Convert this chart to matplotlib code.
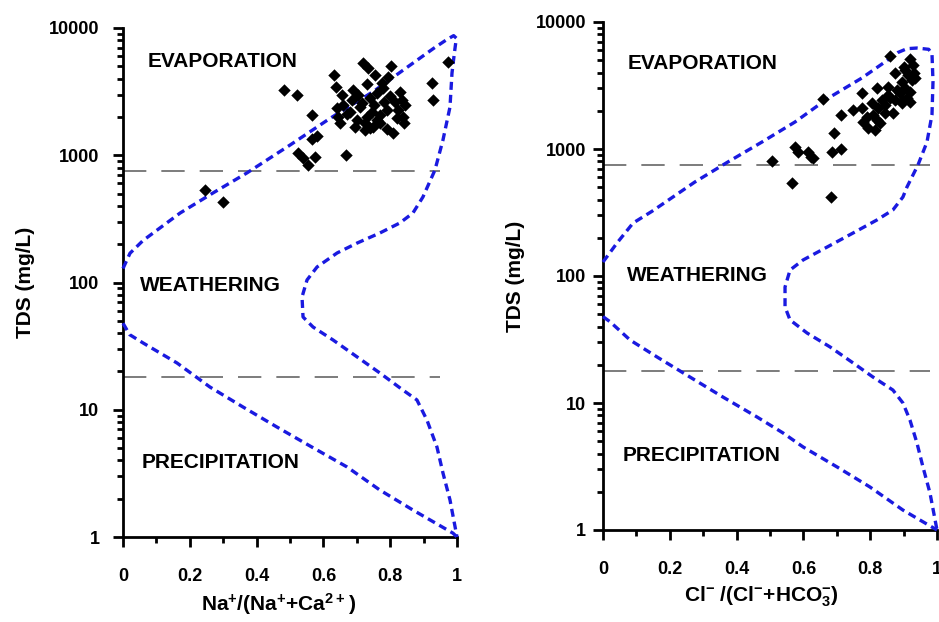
import numpy as np
import matplotlib
matplotlib.use("Agg")
import matplotlib.pyplot as plt
from matplotlib.ticker import FixedLocator, NullFormatter, FixedFormatter

plt.rcParams['font.family'] = ['Liberation Sans', 'DejaVu Sans']
plt.rcParams['font.weight'] = 'bold'
plt.rcParams['mathtext.fontset'] = 'custom'
plt.rcParams['mathtext.bf'] = 'Liberation Sans:bold'
plt.rcParams['mathtext.rm'] = 'Liberation Sans:bold'
plt.rcParams['mathtext.default'] = 'bf'

# ---------------- data ----------------
# Left panel: Na+/(Na+ + Ca2+) vs TDS
na_x = [0.246, 0.299, 0.482, 0.521, 0.566, 0.644, 0.566, 0.581, 0.524, 0.539,
        0.554, 0.575, 0.668, 0.632, 0.638, 0.656, 0.641, 0.719, 0.734, 0.754,
        0.802, 0.793, 0.775, 0.689, 0.704, 0.686, 0.716, 0.740, 0.760, 0.778,
        0.829, 0.835, 0.844, 0.823, 0.838, 0.820, 0.790, 0.769, 0.760, 0.746,
        0.731, 0.725, 0.740, 0.725, 0.749, 0.769, 0.695, 0.808, 0.925, 0.928,
        0.973, 0.660, 0.680, 0.700, 0.710, 0.730, 0.750, 0.780, 0.800, 0.815,
        0.650, 0.670, 0.840, 0.790]
na_tds = [533, 429, 3260, 2975, 2070, 2000, 1340, 1420, 1040, 950,
          840, 970, 1005, 4280, 3440, 2970, 2350, 5310, 4850, 4280,
          5020, 4120, 3700, 3260, 2970, 2720, 2580, 2820, 3080, 3370,
          3140, 2720, 2480, 2270, 2000, 1960, 2270, 2070, 1890, 2190,
          2000, 1790, 1640, 1580, 1670, 1790, 1670, 1500, 3700, 2720,
          5410, 2500, 2200, 1900, 2400, 3600, 2500, 2600, 2900, 2600,
          1800, 2100, 1800, 1600]

# Right panel: Cl-/(Cl- + HCO3-) vs TDS
cl_x = [0.506, 0.566, 0.683, 0.575, 0.584, 0.614, 0.623, 0.629, 0.686, 0.713,
        0.692, 0.713, 0.659, 0.859, 0.919, 0.775, 0.820, 0.749, 0.775, 0.778,
        0.793, 0.814, 0.829, 0.808, 0.805, 0.823, 0.844, 0.853, 0.835, 0.868,
        0.874, 0.853, 0.874, 0.895, 0.889, 0.904, 0.910, 0.919, 0.925, 0.934,
        0.928, 0.904, 0.913, 0.898, 0.919, 0.895, 0.844, 0.880, 0.860, 0.900,
        0.930, 0.820, 0.790]
cl_tds = [805, 540, 419, 1040, 946, 946, 865, 850, 946, 1000,
          1340, 1850, 2480, 5400, 5120, 2760, 3020, 2030, 2100, 1630,
          1460, 1410, 1600, 1850, 2300, 2100, 2220, 2660, 2430, 1920,
          2430, 3080, 3960, 3370, 2760, 3020, 2520, 2810, 3490, 3620,
          4580, 4190, 3830, 2430, 2340, 2300, 1920, 2900, 2500, 4400,
          4000, 1700, 1800]

# Gibbs boundary curves (x, log10 TDS)
L_outer_x = [0.0, 0.021, 0.06, 0.171, 0.269, 0.371, 0.5, 0.62, 0.749, 0.85, 0.93,
             0.97, 0.99, 0.998, 0.992, 0.985, 0.979, 0.958, 0.934, 0.898, 0.868,
             0.829, 0.769, 0.701, 0.641, 0.581, 0.551, 0.536, 0.539, 0.569, 0.629,
             0.701, 0.769, 0.838, 0.88, 0.91, 0.94, 0.958, 0.979, 1.0]
L_outer_y = [2.11, 2.23, 2.33, 2.546, 2.703, 2.861, 3.08, 3.29, 3.50, 3.69, 3.84,
             3.91, 3.94, 3.92, 3.80, 3.646, 3.379, 3.12, 2.884, 2.672, 2.546,
             2.468, 2.389, 2.31, 2.232, 2.122, 2.02, 1.886, 1.729, 1.65, 1.548,
             1.415, 1.289, 1.155, 1.077, 0.919, 0.707, 0.503, 0.291, 0.0]
L_lower_x = [0.0, 0.02, 0.06, 0.162, 0.26, 0.359, 0.461, 0.56, 0.671, 0.769, 0.868, 0.988, 1.0]
L_lower_y = [1.68, 1.59, 1.525, 1.367, 1.179, 1.022, 0.864, 0.715, 0.55, 0.369, 0.212, 0.03, 0.0]

R_outer_x = [0.0, 0.042, 0.09, 0.147, 0.275, 0.374, 0.476, 0.575, 0.674, 0.775, 0.844,
             0.883, 0.91, 0.94, 0.975, 0.985, 0.988, 0.985, 0.97, 0.943, 0.910, 0.898,
             0.868, 0.82, 0.749, 0.671, 0.599, 0.56, 0.545, 0.545, 0.56, 0.611, 0.68,
             0.749, 0.808, 0.868, 0.898, 0.919, 0.94, 0.958, 0.979, 1.0]
R_outer_y = [2.11, 2.26, 2.417, 2.51, 2.74, 2.898, 3.055, 3.213, 3.40, 3.559, 3.685,
             3.76, 3.79, 3.795, 3.785, 3.75, 3.53, 3.27, 3.055, 2.874, 2.70, 2.622,
             2.52, 2.441, 2.339, 2.228, 2.126, 2.047, 1.913, 1.756, 1.654, 1.551, 1.441,
             1.315, 1.205, 1.102, 1.0, 0.866, 0.685, 0.496, 0.291, 0.0]
R_lower_x = [0.0, 0.021, 0.081, 0.162, 0.26, 0.359, 0.461, 0.539, 0.599, 0.701, 0.799, 0.898, 1.0]
R_lower_y = [1.68, 1.64, 1.496, 1.362, 1.205, 1.047, 0.89, 0.764, 0.654, 0.496, 0.339, 0.157, 0.0]

ref_upper = 750
ref_lower = 18
x_ticks = [0, 0.2, 0.4, 0.6, 0.8, 1]
x_tick_labels = ['0', '0.2', '0.4', '0.6', '0.8', '1']
y_ticks = [1, 10, 100, 1000, 10000]
y_tick_labels = ['1', '10', '100', '1000', '10000']

BLUE = '#1a1ae0'

fig = plt.figure(figsize=(9.39, 6.22), dpi=100)
ax1 = fig.add_axes([123/939, 85/622, 334/939, 509/622])
ax2 = fig.add_axes([603/939, 92/622, 334/939, 508/622])


def style(ax, xlabel, ylabel, outer_x, outer_y, lower_x, lower_y, px, py,
          ref_end, ypad, ylab_x, xlab_x, xlab_size):
    ax.set_yscale('log')
    ax.set_xlim(0, 1)
    ax.set_ylim(1, 10000)
    for s in ['top', 'right']:
        ax.spines[s].set_visible(False)
    for s in ['left', 'bottom']:
        ax.spines[s].set_linewidth(2.0)
        ax.spines[s].set_color('black')
    ax.xaxis.set_major_locator(FixedLocator(x_ticks))
    ax.xaxis.set_major_formatter(FixedFormatter(x_tick_labels))
    ax.xaxis.set_minor_locator(FixedLocator([0.1, 0.3, 0.5, 0.7, 0.9]))
    ax.yaxis.set_major_locator(FixedLocator(y_ticks))
    ax.yaxis.set_major_formatter(FixedFormatter(y_tick_labels))
    minors = [m * 10**d for d in range(4) for m in range(2, 10)]
    ax.yaxis.set_minor_locator(FixedLocator(minors))
    ax.yaxis.set_minor_formatter(NullFormatter())
    ax.tick_params(which='major', direction='out', length=7, width=2.0,
                   labelsize=13)
    ax.tick_params(axis='x', which='major', pad=15)
    ax.tick_params(axis='y', which='major', pad=ypad)
    ax.tick_params(which='minor', direction='out', length=4.5, width=2.0)
    for lab in ax.get_xticklabels() + ax.get_yticklabels():
        lab.set_fontweight('bold')
    ax.set_xlabel(xlabel, fontsize=xlab_size, fontweight='bold', labelpad=5)
    ax.xaxis.label.set_x(xlab_x)
    ax.set_ylabel(ylabel, fontsize=15, fontweight='bold')
    ax.yaxis.set_label_coords(ylab_x, 0.5)

    ax.plot([0, ref_end], [ref_upper, ref_upper], color='#666666', lw=1.2,
            dashes=(14, 9), zorder=2)
    ax.plot([0, ref_end], [ref_lower, ref_lower], color='#666666', lw=1.2,
            dashes=(14, 9), zorder=2)

    ax.plot(outer_x, 10 ** np.array(outer_y), color=BLUE, lw=2.4,
            dashes=(2.4, 1.5), zorder=3, clip_on=False)
    ax.plot(lower_x, 10 ** np.array(lower_y), color=BLUE, lw=2.4,
            dashes=(2.4, 1.5), zorder=3, clip_on=False)

    ax.scatter(px, py, marker='D', s=40, color='black', zorder=4,
               linewidths=0, clip_on=False)


style(ax1, r'Na$^{+}$/(Na$^{+}$+Ca$^{2+}$)', 'TDS (mg/L)',
      L_outer_x, L_outer_y, L_lower_x, L_lower_y, na_x, na_tds, 0.95,
      10, -0.263, 0.465, 15)
style(ax2, r'Cl$^{-}$ /(Cl$^{-}$+HCO$_{3}^{-}$)', 'TDS (mg/L)',
      R_outer_x, R_outer_y, R_lower_x, R_lower_y, cl_x, cl_tds, 0.98,
      5, -0.234, 0.475, 15)

fs = 15
ax1.text(0.075, 4940, 'EVAPORATION', fontsize=fs, fontweight='bold')
ax1.text(0.051, 86, 'WEATHERING', fontsize=fs, fontweight='bold')
ax1.text(0.057, 3.5, 'PRECIPITATION', fontsize=fs, fontweight='bold')
ax2.text(0.075, 4270, 'EVAPORATION', fontsize=fs, fontweight='bold')
ax2.text(0.072, 91.5, 'WEATHERING', fontsize=fs, fontweight='bold')
ax2.text(0.06, 3.5, 'PRECIPITATION', fontsize=fs, fontweight='bold')

fig.savefig('out.png', dpi=100)
